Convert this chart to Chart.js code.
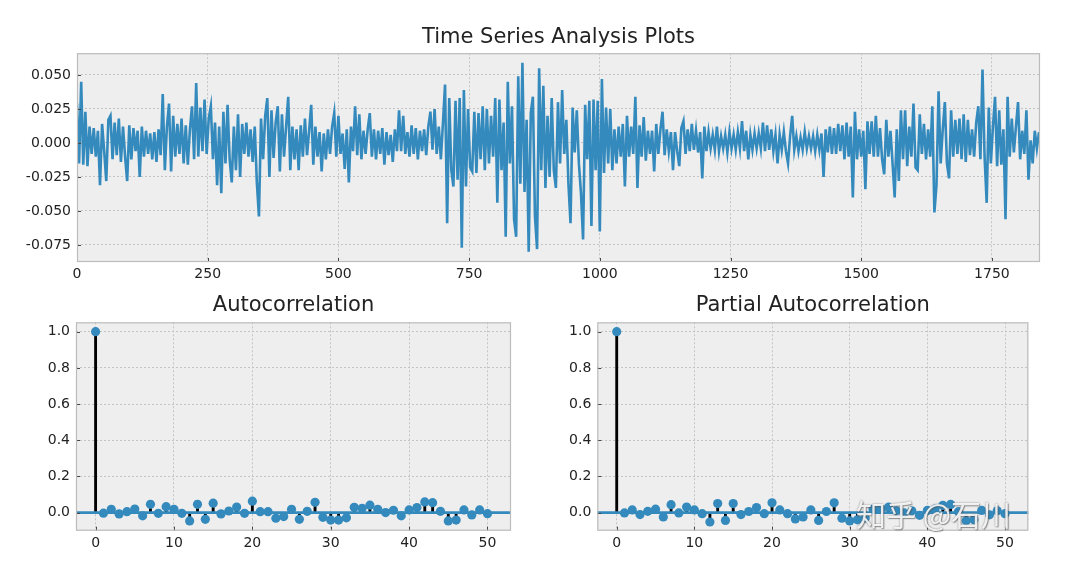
<!DOCTYPE html>
<html>
<head>
<meta charset="utf-8">
<title>Time Series Analysis Plots</title>
<script src="https://cdn.jsdelivr.net/npm/chart.js@4.4.1/dist/chart.umd.min.js"></script>
<style>
    html, body { margin: 0; padding: 0; background: #ffffff; }
    body { width: 1065px; height: 565px; position: relative; overflow: hidden; }
    .box { position: absolute; }
    #watermark {
        position: absolute; left: 856px; top: 498px;
        font-family: "Noto Sans CJK SC", sans-serif; font-size: 30px; line-height: 1;
        color: rgba(255, 255, 255, 0.88);
        text-shadow: 0 0 2px rgba(80, 80, 80, 0.7), 1px 1px 1px rgba(80, 80, 80, 0.5);
        white-space: nowrap;
    }
</style>
</head>
<body>
<div class="box" style="left:0;top:0;width:1065px;height:285px"><canvas id="tsChart"></canvas></div>
<div class="box" style="left:0;top:280px;width:530px;height:285px"><canvas id="acfChart"></canvas></div>
<div class="box" style="left:530px;top:280px;width:535px;height:285px"><canvas id="pacfChart"></canvas></div>
<div id="watermark">知乎 @石川</div>
<script>
// ---- data ----
// returns, one value every 4 observations (0, 4, 8 ... 1840)
const tsStep = 4;
const tsValues = [
    // 0 - 96
    0.029, -0.015, 0.045, -0.016, 0.023, -0.017, 0.012, -0.008, 0.011, -0.010,
    0.009, -0.031, 0.014, -0.006, -0.028, 0.017, 0.020, -0.012, 0.015, -0.009,
    0.018, -0.014, 0.012, -0.010, -0.028,
    // 100 - 196
    0.013, -0.012, 0.011, -0.006, 0.009, -0.025, 0.012, -0.010, 0.009, -0.008,
    0.007, -0.012, 0.008, -0.014, 0.010, -0.009, 0.036, -0.020, 0.012, 0.029,
    -0.021, 0.020, -0.010, 0.014, -0.008,
    // 200 - 296
    0.018, -0.015, 0.013, -0.016, 0.010, 0.027, -0.012, 0.044, -0.010, 0.026,
    -0.006, 0.032, -0.008, 0.018, 0.027, -0.012, 0.015, -0.031, 0.012, -0.037,
    0.023, -0.015, 0.028, -0.012, -0.029,
    // 300 - 396
    0.012, -0.020, 0.021, -0.025, 0.014, -0.008, 0.015, -0.010, 0.010, -0.014,
    0.012, -0.029, -0.054, 0.018, -0.012, 0.020, 0.033, -0.025, 0.024, -0.011,
    0.015, 0.027, -0.021, 0.021, -0.010,
    // 400 - 496
    0.012, 0.034, -0.020, 0.012, -0.012, 0.010, -0.020, 0.013, -0.010, 0.018,
    -0.009, 0.009, 0.028, -0.016, 0.012, -0.010, 0.008, -0.021, 0.007, -0.012,
    0.010, -0.008, 0.012, 0.022, -0.010,
    // 500 - 596
    0.020, -0.008, 0.007, -0.019, 0.010, -0.029, 0.012, -0.006, 0.027, -0.009,
    0.021, -0.012, 0.009, -0.008, 0.010, 0.022, -0.010, 0.010, -0.012, 0.009,
    -0.008, 0.011, -0.016, 0.008, -0.009,
    // 600 - 696
    0.006, -0.014, 0.010, -0.006, 0.024, -0.006, 0.020, -0.008, 0.008, -0.010,
    0.013, -0.008, 0.011, -0.012, 0.009, -0.006, 0.010, -0.009, 0.012, 0.023,
    -0.005, 0.025, -0.008, 0.012, -0.012,
    // 700 - 796
    0.015, 0.043, -0.059, 0.033, -0.020, -0.032, 0.031, -0.027, 0.033, -0.077,
    0.039, -0.032, 0.025, -0.018, -0.021, 0.023, -0.022, 0.022, -0.012, 0.027,
    -0.020, 0.025, -0.015, 0.020, -0.010,
    // 800 - 896
    0.033, -0.044, 0.032, -0.020, 0.015, -0.069, 0.045, -0.015, 0.027, -0.056,
    -0.069, 0.049, -0.030, 0.059, -0.036, 0.017, -0.080, 0.022, 0.034, -0.054,
    -0.078, 0.055, -0.020, 0.042, -0.033,
    // 900 - 996
    0.020, -0.025, 0.033, -0.020, -0.033, 0.030, -0.015, 0.039, -0.008, 0.017,
    -0.030, -0.059, 0.026, -0.007, 0.024, -0.015, -0.037, -0.071, 0.028, -0.012,
    0.031, -0.061, 0.032, -0.020, 0.031,
    // 1000 - 1096
    -0.065, 0.047, -0.022, 0.026, -0.015, 0.025, -0.020, 0.010, -0.015, 0.012,
    -0.010, 0.014, -0.032, 0.020, -0.010, 0.012, -0.008, 0.034, -0.033, 0.013,
    -0.010, 0.019, -0.013, 0.009, -0.008,
    // 1100 - 1196
    0.009, -0.021, 0.014, -0.008, 0.010, 0.023, -0.009, 0.010, -0.006, 0.008,
    -0.020, 0.008, -0.006, -0.017, 0.011, 0.016, -0.008, 0.010, -0.006, 0.014,
    -0.005, 0.009, -0.007, 0.008, -0.026,
    // 1200 - 1296
    0.012, -0.006, 0.008, -0.004, 0.006, -0.005, 0.012, -0.006, 0.005, -0.004,
    0.006, -0.007, 0.008, -0.004, 0.006, -0.005, 0.008, -0.004, 0.016, -0.006,
    0.009, -0.012, 0.006, -0.005, 0.007,
    // 1300 - 1396
    -0.004, 0.007, -0.004, 0.015, -0.006, 0.013, -0.005, 0.010, -0.006, 0.006,
    -0.015, 0.006, -0.005, 0.008, -0.006, -0.015, 0.005, 0.020, -0.005, 0.005,
    -0.006, 0.004, -0.005, 0.008, -0.004,
    // 1400 - 1496
    0.005, -0.004, 0.005, -0.006, 0.006, -0.005, 0.007, -0.025, 0.010, -0.007,
    0.012, -0.008, 0.011, -0.008, 0.014, -0.006, 0.013, -0.012, 0.015, -0.010,
    0.012, -0.040, 0.023, -0.012, 0.010,
    // 1500 - 1596
    -0.010, 0.009, -0.034, 0.016, -0.008, 0.016, -0.010, 0.020, -0.010, 0.011,
    -0.012, -0.023, 0.017, -0.010, 0.009, -0.015, -0.040, 0.010, -0.028, 0.024,
    -0.012, 0.024, -0.017, 0.012, -0.010,
    // 1600 - 1696
    0.029, -0.018, -0.020, 0.021, -0.008, 0.014, -0.012, 0.010, -0.010, 0.027,
    -0.051, -0.031, 0.038, -0.015, 0.010, 0.030, -0.015, -0.026, 0.024, -0.010,
    0.017, -0.008, 0.018, -0.012, 0.021,
    // 1700 - 1796
    -0.014, 0.017, -0.009, 0.010, -0.010, 0.015, 0.027, -0.012, 0.054, -0.010,
    -0.044, 0.026, -0.015, 0.012, 0.034, -0.017, 0.024, -0.016, 0.010, -0.056,
    0.034, -0.010, 0.018, -0.007, 0.012,
    // 1800 - 1840
    0.030, -0.012, 0.009, -0.008, 0.024, -0.027, 0.002, -0.015, 0.009, -0.004,
    0.008
];
const tsXTicks = [0, 250, 500, 750, 1000, 1250, 1500, 1750];
const tsYTicks = [-0.075, -0.05, -0.025, 0, 0.025, 0.05];

// correlograms, lags 0 - 50
const lags = Array.from({ length: 51 }, (_, i) => i);
const acfValues = [
    1.0, -0.003, 0.018, -0.007, 0.005, 0.020, -0.018, 0.046, -0.004, 0.033,
    0.018, -0.004, -0.046, 0.046, -0.037, 0.052, -0.007, 0.009, 0.031, -0.004,
    0.063, 0.005, 0.005, -0.031, -0.022, 0.018, -0.037, 0.007, 0.057, -0.026,
    -0.041, -0.041, -0.029, 0.029, 0.024, 0.041, 0.018, 0.000, 0.013, -0.018,
    0.015, 0.028, 0.059, 0.055, 0.007, -0.046, -0.041, 0.015, -0.013, 0.015,
    -0.006
];
const pacfValues = [
    1.0, -0.002, 0.015, -0.011, 0.007, 0.019, -0.024, 0.044, -0.002, 0.031,
    0.015, -0.006, -0.052, 0.050, -0.043, 0.050, -0.011, 0.006, 0.028, -0.006,
    0.054, 0.015, -0.006, -0.035, -0.024, 0.015, -0.043, 0.006, 0.054, -0.031,
    -0.046, -0.040, -0.030, 0.020, 0.020, 0.030, 0.010, -0.002, 0.010, -0.015,
    0.012, 0.020, 0.040, 0.045, 0.005, -0.045, -0.040, 0.012, -0.012, 0.010,
    -0.006
];
const corrYTicks = [0, 0.2, 0.4, 0.6, 0.8, 1.0];
const corrXTicks = [0, 10, 20, 30, 40, 50];

// ---- styling (matplotlib bmh look) ----
const BLUE = '#348ABD';
const TEXT = '#222222';
const FONT = '"DejaVu Sans", sans-serif';

// grey axes background, light frame and small inward ticks
const axesFrame = {
    id: 'axesFrame',
    beforeDraw(chart) {
        const { ctx, chartArea: a } = chart;
        ctx.save();
        ctx.fillStyle = '#eeeeee';
        ctx.fillRect(a.left, a.top, a.right - a.left, a.bottom - a.top);
        ctx.restore();
    },
    afterDraw(chart) {
        const { ctx, chartArea: a, scales } = chart;
        ctx.save();
        ctx.strokeStyle = '#444444';
        ctx.lineWidth = 1;
        ctx.beginPath();
        scales.x.ticks.forEach(t => {
            const px = Math.round(scales.x.getPixelForValue(t.value)) + 0.5;
            ctx.moveTo(px, a.bottom);
            ctx.lineTo(px, a.bottom - 4);
        });
        scales.y.ticks.forEach(t => {
            const py = Math.round(scales.y.getPixelForValue(t.value)) + 0.5;
            ctx.moveTo(a.left, py);
            ctx.lineTo(a.left + 4, py);
        });
        ctx.stroke();
        ctx.strokeStyle = '#bcbcbc';
        ctx.lineWidth = 1.2;
        ctx.strokeRect(a.left + 0.5, a.top + 0.5, a.right - a.left - 1, a.bottom - a.top - 1);
        ctx.restore();
    }
};

// blue horizontal line at zero, drawn between the stems and the markers
const zeroLine = {
    id: 'zeroLine',
    beforeDatasetDraw(chart, args) {
        if (args.index !== 1) return;
        const { ctx, chartArea: a, scales } = chart;
        const y0 = scales.y.getPixelForValue(0);
        ctx.save();
        ctx.strokeStyle = BLUE;
        ctx.lineWidth = 2.6;
        ctx.beginPath();
        ctx.moveTo(a.left, y0);
        ctx.lineTo(a.right, y0);
        ctx.stroke();
        ctx.restore();
    }
};

function setTicks(values) {
    return function (scale) {
        scale.ticks = values.map(v => ({ value: v }));
    };
}

function axisBase(tickValues, digits, fixedSize, isX) {
    return {
        type: 'linear',
        offset: false,
        afterBuildTicks: setTicks(tickValues),
        afterFit: function (scale) {
            if (isX) scale.height = fixedSize; else scale.width = fixedSize;
        },
        grid: {
            offset: false,
            color: '#c4c4c4',
            lineWidth: 1,
            drawTicks: false
        },
        border: { display: false, dash: [2, 2] },
        ticks: {
            color: TEXT,
            font: { family: FONT, size: 14 },
            padding: isX ? 4 : 6,
            maxRotation: 0,
            autoSkip: false,
            callback: function (value) {
                if (Math.abs(value) < 1e-9) value = 0;
                return digits === 0 ? String(value) : value.toFixed(digits);
            }
        }
    };
}

function titleOpts(text, top, bottom) {
    return {
        display: true,
        text: text,
        color: TEXT,
        fullSize: false,
        font: { family: FONT, size: 21, weight: 'normal', lineHeight: 1.2 },
        padding: { top: top, bottom: bottom }
    };
}

function genSeriesChart() {
    const ctx = document.getElementById('tsChart').getContext('2d');
    const points = tsValues.map((v, i) => ({ x: i * tsStep, y: v }));

    const xAxis = axisBase(tsXTicks, 0, 23, true);
    xAxis.min = 0;
    xAxis.max = 1842;
    const yAxis = axisBase(tsYTicks, 3, 77, false);
    yAxis.min = -0.0875;
    yAxis.max = 0.066;

    new Chart(ctx, {
        type: 'line',
        data: {
            datasets: [{
                data: points,
                borderColor: BLUE,
                borderWidth: 2.6,
                pointRadius: 0,
                tension: 0,
                fill: false
            }]
        },
        options: {
            responsive: true,
            maintainAspectRatio: false,
            animation: false,
            layout: { padding: { left: 0, right: 25, top: 0, bottom: 0 } },
            plugins: {
                legend: { display: false },
                tooltip: { enabled: false },
                title: titleOpts('Time Series Analysis Plots', 25, 3)
            },
            scales: { x: xAxis, y: yAxis }
        },
        plugins: [axesFrame]
    });
}

function genCorrChart(canvasId, title, values, yWidth, rightPad) {
    const ctx = document.getElementById(canvasId).getContext('2d');

    const xAxis = axisBase(corrXTicks, 0, 34.3, true);
    xAxis.min = -2.5;
    xAxis.max = 53;
    const yAxis = axisBase(corrYTicks, 1, yWidth, false);
    yAxis.min = -0.1;
    yAxis.max = 1.052;

    new Chart(ctx, {
        type: 'bar',
        data: {
            datasets: [{
                // stems
                type: 'bar',
                data: lags.map((l, i) => ({ x: l, y: [0, values[i]] })),
                backgroundColor: '#000000',
                borderWidth: 0,
                barThickness: 2.2,
                grouped: false,
                order: 2
            }, {
                // markers
                type: 'scatter',
                data: lags.map((l, i) => ({ x: l, y: values[i] })),
                backgroundColor: BLUE,
                borderWidth: 0,
                pointRadius: 4.6,
                order: 1
            }]
        },
        options: {
            responsive: true,
            maintainAspectRatio: false,
            animation: false,
            layout: { padding: { left: 0, right: rightPad, top: 0, bottom: 0 } },
            plugins: {
                legend: { display: false },
                tooltip: { enabled: false },
                title: titleOpts(title, 13.4, 3.7)
            },
            scales: { x: xAxis, y: yAxis }
        },
        plugins: [axesFrame, zeroLine]
    });
}

genSeriesChart();
genCorrChart('acfChart', 'Autocorrelation', acfValues, 76, 19);
genCorrChart('pacfChart', 'Partial Autocorrelation', pacfValues, 67.3, 36.7);
</script>
</body>
</html>
